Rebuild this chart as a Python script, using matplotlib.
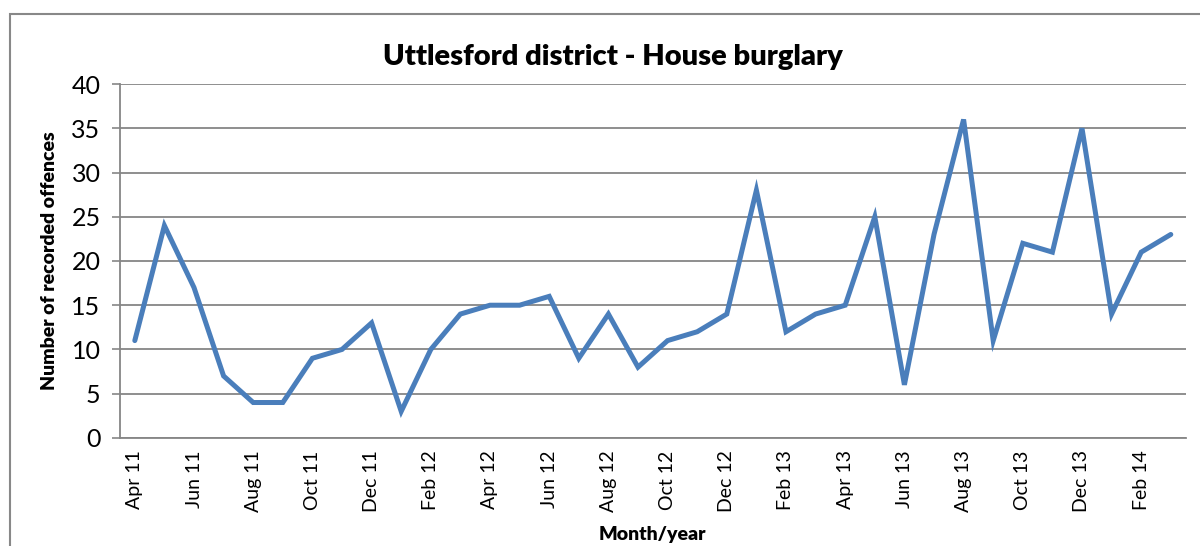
import matplotlib.pyplot as plt
from matplotlib.patches import Rectangle

# data
months = ['Apr 11', 'May 11', 'Jun 11', 'Jul 11', 'Aug 11', 'Sep 11', 'Oct 11', 'Nov 11', 'Dec 11',
          'Jan 12', 'Feb 12', 'Mar 12', 'Apr 12', 'May 12', 'Jun 12', 'Jul 12', 'Aug 12', 'Sep 12',
          'Oct 12', 'Nov 12', 'Dec 12', 'Jan 13', 'Feb 13', 'Mar 13', 'Apr 13', 'May 13', 'Jun 13',
          'Jul 13', 'Aug 13', 'Sep 13', 'Oct 13', 'Nov 13', 'Dec 13', 'Jan 14', 'Feb 14', 'Mar 14']
offences = [11, 24, 17, 7, 4, 4, 9, 10, 13,
            3, 10, 14, 15, 15, 16, 9, 14, 8,
            11, 12, 14, 28, 12, 14, 15, 25, 6,
            23, 36, 11, 22, 21, 35, 14, 21, 23]
y_ticks = [0, 5, 10, 15, 20, 25, 30, 35, 40]

plt.rcParams['font.family'] = ['Lato', 'DejaVu Sans']

fig = plt.figure(figsize=(12, 5.46), dpi=100)
ax = fig.add_axes([0.1, 0.198, 0.888, 0.648])

# outer chart border
fig.patches.append(Rectangle((10 / 1200, -0.1), 1.2, 0.974 + 0.1, transform=fig.transFigure,
                             fill=False, edgecolor='#888888', linewidth=1.5))

x = list(range(len(months)))
ax.plot(x, offences, color='#4A7EBB', linewidth=3.6, solid_joinstyle='miter',
        solid_capstyle='round', zorder=3)

ax.set_xlim(-0.5, len(months) - 0.5)
ax.set_ylim(0, 40)
ax.set_yticks(y_ticks)
ax.set_yticklabels([str(v) for v in y_ticks], fontsize=18)
ax.set_xticks(x[::2])
ax.set_xticklabels(months[::2], rotation=90, fontsize=14)
ax.tick_params(axis='x', length=0, pad=9)
ax.tick_params(axis='y', length=6, color='#868686', width=1.2, pad=8)

ax.grid(axis='y', color='#868686', linewidth=1.3)
ax.set_axisbelow(True)
for side in ['top', 'right']:
    ax.spines[side].set_visible(False)
for side in ['left', 'bottom']:
    ax.spines[side].set_color('#868686')
    ax.spines[side].set_linewidth(1.3)

fig.text(0.511, 0.895, 'Uttlesford district - House burglary', fontsize=21,
         fontweight='heavy', ha='center', va='center')
ax.set_ylabel('Number of recorded offences', fontsize=14, fontweight='heavy', labelpad=10)
ax.set_xlabel('Month/year', fontsize=14, fontweight='heavy', labelpad=10)

fig.savefig('out.png', dpi=100)
